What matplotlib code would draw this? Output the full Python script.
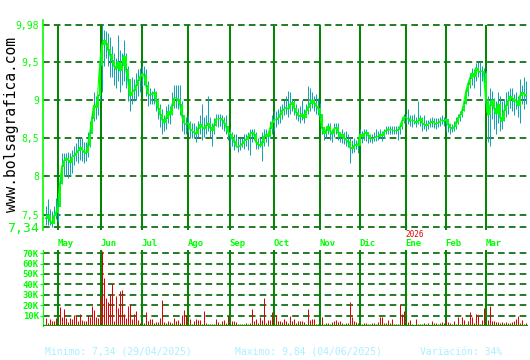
import matplotlib
matplotlib.use('Agg')
import numpy as np
import matplotlib.pyplot as plt
import matplotlib.transforms as mtransforms

# daily close / high / low (EUR)
close = [7.45, 7.50, 7.42, 7.38, 7.48, 7.52, 7.60, 7.90, 8.12, 8.20,
         8.24, 8.22, 8.18, 8.25, 8.27, 8.30, 8.33, 8.38, 8.35, 8.32,
         8.30, 8.40, 8.55, 8.75, 8.93, 8.90, 9.05, 9.45, 9.72, 9.78,
         9.74, 9.66, 9.60, 9.52, 9.45, 9.40, 9.50, 9.38, 9.45, 9.58,
         9.40, 9.28, 9.05, 9.10, 9.12, 9.18, 9.25, 9.30, 9.34, 9.34,
         9.20, 9.08, 9.06, 9.08, 9.10, 9.00, 8.90, 8.82, 8.75, 8.70,
         8.75, 8.85, 8.80, 8.92, 9.02, 9.03, 9.00, 8.95, 8.80, 8.70,
         8.68, 8.70, 8.62, 8.60, 8.58, 8.55, 8.62, 8.68, 8.65, 8.62,
         8.66, 8.70, 8.64, 8.60, 8.66, 8.75, 8.75, 8.76, 8.74, 8.70,
         8.66, 8.58, 8.55, 8.50, 8.46, 8.40, 8.38, 8.40, 8.42, 8.46,
         8.48, 8.52, 8.55, 8.58, 8.56, 8.45, 8.42, 8.40, 8.44, 8.52,
         8.55, 8.52, 8.62, 8.70, 8.74, 8.74, 8.76, 8.80, 8.86, 8.88,
         8.90, 8.88, 8.94, 8.97, 8.90, 8.84, 8.80, 8.78, 8.82, 8.76,
         8.85, 8.90, 8.95, 9.00, 8.96, 8.92, 8.90, 8.82, 8.64, 8.56,
         8.60, 8.66, 8.60, 8.55, 8.62, 8.64, 8.58, 8.52, 8.55, 8.50,
         8.48, 8.46, 8.38, 8.36, 8.40, 8.42, 8.40, 8.55, 8.52, 8.56,
         8.58, 8.54, 8.50, 8.49, 8.50, 8.52, 8.52, 8.55, 8.53, 8.58,
         8.60, 8.62, 8.61, 8.61, 8.60, 8.60, 8.61, 8.64, 8.72, 8.78,
         8.77, 8.76, 8.72, 8.74, 8.73, 8.70, 8.72, 8.76, 8.70, 8.68,
         8.66, 8.68, 8.70, 8.72, 8.70, 8.68, 8.70, 8.72, 8.74, 8.72,
         8.75, 8.68, 8.64, 8.62, 8.64, 8.70, 8.76, 8.80, 8.85, 8.95,
         9.10, 9.20, 9.28, 9.35, 9.30, 9.42, 9.38, 9.36, 9.38, 9.35,
         9.00, 8.80, 8.92, 9.00, 8.90, 8.82, 8.95, 8.78, 8.72, 8.85,
         8.92, 8.98, 9.05, 9.02, 8.98, 9.00, 8.92, 9.05, 9.10, 9.08, 9.05]

high = [7.62, 7.70, 7.58, 7.55, 7.62, 7.72, 7.78, 8.00, 8.30, 8.30,
        8.30, 8.32, 8.30, 8.35, 8.40, 8.44, 8.50, 8.50, 8.50, 8.45,
        8.45, 8.58, 8.72, 8.86, 9.10, 9.05, 9.08, 9.60, 9.98, 9.92,
        9.90, 9.88, 9.82, 9.70, 9.62, 9.55, 9.85, 9.65, 9.62, 9.78,
        9.62, 9.45, 9.25, 9.30, 9.28, 9.35, 9.40, 9.42, 9.44, 9.45,
        9.40, 9.25, 9.15, 9.12, 9.15, 9.12, 9.02, 8.95, 8.88, 8.80,
        8.92, 8.95, 8.92, 9.10, 9.20, 9.20, 9.20, 9.20, 8.98, 8.80,
        8.78, 8.80, 8.72, 8.70, 8.70, 8.66, 8.72, 8.80, 8.95, 8.78,
        8.80, 9.05, 8.78, 8.70, 8.76, 8.82, 8.82, 8.82, 8.80, 8.78,
        8.80, 8.66, 8.62, 8.58, 8.55, 8.55, 8.50, 8.50, 8.52, 8.55,
        8.55, 8.58, 8.62, 8.62, 8.62, 8.58, 8.50, 8.52, 8.58, 8.62,
        8.62, 8.60, 8.72, 8.80, 8.86, 8.86, 8.88, 8.92, 8.95, 9.00,
        9.05, 9.12, 9.10, 9.00, 9.00, 8.95, 8.90, 8.92, 9.00, 8.88,
        8.95, 9.18, 9.15, 9.10, 9.05, 9.08, 9.02, 8.96, 8.70, 8.65,
        8.66, 8.70, 8.70, 8.62, 8.70, 8.70, 8.70, 8.58, 8.62, 8.58,
        8.60, 8.55, 8.50, 8.48, 8.50, 8.48, 8.52, 8.62, 8.60, 8.62,
        8.62, 8.58, 8.55, 8.55, 8.58, 8.62, 8.60, 8.62, 8.60, 8.62,
        8.66, 8.66, 8.66, 8.66, 8.66, 8.66, 8.66, 8.70, 8.78, 8.82,
        8.82, 8.88, 8.80, 8.80, 8.82, 8.78, 8.98, 8.80, 8.78, 8.80,
        8.74, 8.74, 8.76, 8.78, 8.76, 8.76, 8.76, 8.78, 8.80, 8.78,
        8.78, 8.75, 8.70, 8.68, 8.72, 8.78, 8.82, 8.86, 8.90, 9.00,
        9.15, 9.25, 9.35, 9.42, 9.40, 9.48, 9.50, 9.50, 9.45, 9.42,
        9.38, 9.05, 9.15, 9.12, 9.02, 8.98, 9.10, 9.05, 8.98, 9.00,
        9.10, 9.12, 9.15, 9.15, 9.08, 9.10, 9.05, 9.28, 9.20, 9.30, 9.25]

low = [7.36, 7.36, 7.36, 7.34, 7.40, 7.44, 7.40, 7.75, 7.90, 8.00,
       8.00, 7.98, 8.02, 8.05, 8.15, 8.20, 8.18, 8.22, 8.20, 8.18,
       8.20, 8.25, 8.38, 8.58, 8.72, 8.75, 8.80, 8.98, 9.10, 9.45,
       9.55, 9.45, 9.30, 9.30, 9.20, 9.15, 9.25, 9.10, 9.20, 9.25,
       9.15, 8.98, 8.85, 8.95, 8.98, 9.00, 9.05, 9.10, 9.18, 9.20,
       9.05, 8.92, 8.95, 8.95, 8.95, 8.85, 8.75, 8.65, 8.55, 8.60,
       8.62, 8.70, 8.68, 8.80, 8.90, 8.90, 8.88, 8.80, 8.60, 8.55,
       8.55, 8.58, 8.52, 8.50, 8.50, 8.45, 8.52, 8.55, 8.48, 8.52,
       8.55, 8.60, 8.52, 8.40, 8.55, 8.66, 8.65, 8.66, 8.62, 8.60,
       8.55, 8.48, 8.38, 8.40, 8.35, 8.38, 8.32, 8.35, 8.38, 8.36,
       8.40, 8.35, 8.28, 8.45, 8.48, 8.36, 8.36, 8.38, 8.20, 8.40,
       8.45, 8.40, 8.50, 8.55, 8.60, 8.65, 8.68, 8.70, 8.75, 8.80,
       8.82, 8.78, 8.82, 8.86, 8.80, 8.75, 8.72, 8.70, 8.74, 8.70,
       8.78, 8.82, 8.85, 8.90, 8.86, 8.82, 8.80, 8.75, 8.55, 8.48,
       8.50, 8.55, 8.48, 8.45, 8.52, 8.56, 8.48, 8.45, 8.44, 8.42,
       8.40, 8.38, 8.18, 8.30, 8.32, 8.36, 8.30, 8.45, 8.44, 8.48,
       8.46, 8.44, 8.45, 8.44, 8.46, 8.46, 8.48, 8.50, 8.46, 8.50,
       8.55, 8.56, 8.56, 8.56, 8.56, 8.55, 8.48, 8.56, 8.62, 8.70,
       8.70, 8.68, 8.66, 8.65, 8.68, 8.64, 8.68, 8.66, 8.60, 8.62,
       8.60, 8.62, 8.64, 8.65, 8.63, 8.62, 8.64, 8.66, 8.68, 8.66,
       8.60, 8.58, 8.56, 8.58, 8.60, 8.62, 8.68, 8.72, 8.78, 8.85,
       8.95, 9.05, 9.15, 9.20, 9.15, 9.25, 9.30, 9.05, 9.25, 9.22,
       8.85, 8.45, 8.40, 8.75, 8.62, 8.55, 8.70, 8.60, 8.62, 8.72,
       8.78, 8.82, 8.90, 8.85, 8.80, 8.88, 8.78, 8.70, 8.95, 8.88, 8.95]

# daily volume in thousands
volume_k = [8, 3, 7, 5, 5, 8, 2, 18, 9, 16,
            8, 4, 8, 7, 11, 10, 5, 12, 6, 5,
            5, 11, 9, 19, 15, 9, 8, 29, 72, 46,
            27, 23, 31, 40, 5, 29, 17, 34, 35, 12,
            8, 19, 21, 7, 12, 14, 6, 3, 2, 3,
            13, 5, 7, 7, 3, 4, 4, 8, 25, 4,
            3, 5, 4, 3, 8, 5, 6, 3, 11, 15,
            11, 2, 7, 2, 5, 7, 6, 6, 2, 14,
            3, 2, 2, 2, 2, 7, 4, 2, 5, 6,
            3, 10, 2, 5, 5, 4, 2, 2, 2, 2,
            3, 2, 3, 16, 5, 7, 3, 9, 6, 27,
            3, 6, 6, 13, 2, 11, 5, 5, 4, 7,
            5, 3, 10, 5, 7, 3, 5, 5, 5, 4,
            2, 16, 6, 7, 7, 2, 2, 2, 9, 2,
            3, 3, 2, 4, 5, 6, 4, 5, 3, 2,
            3, 3, 23, 9, 5, 4, 3, 2, 2, 3,
            3, 2, 2, 3, 3, 2, 4, 9, 9, 3,
            3, 6, 3, 7, 2, 2, 2, 21, 12, 14,
            2, 4, 6, 2, 1, 7, 2, 2, 2, 3,
            2, 3, 1, 5, 3, 3, 2, 3, 4, 3,
            7, 4, 3, 2, 5, 2, 9, 2, 9, 6,
            2, 5, 13, 9, 3, 12, 11, 2, 6, 17,
            2, 6, 19, 5, 5, 4, 4, 3, 4, 3,
            4, 3, 3, 4, 5, 7, 10, 3, 6, 2, 3]

month_names = ['May', 'Jun', 'Jul', 'Ago', 'Sep', 'Oct', 'Nov', 'Dic', 'Ene', 'Feb', 'Mar']
month_start = [6, 27.5, 48, 71, 92, 114, 137, 157, 180, 200, 220]
price_ticks = [7.34, 7.5, 8, 8.5, 9, 9.5, 9.98]
price_labels = ['7,34', '7,5', '8', '8,5', '9', '9,5', '9,98']
vol_ticks = [10, 20, 30, 40, 50, 60, 70]
vol_labels = ['10K', '20K', '30K', '40K', '50K', '60K', '70K']

LIME = '#00ff00'
GRID = '#006400'
MLINE = '#008800'
BARC = '#10a4b4'
W, H = 530, 360
MONO = 'DejaVu Sans Mono'
PX = 0.72  # one pixel in points at dpi 100

fig = plt.figure(figsize=(5.3, 3.6), dpi=100)
fig.patch.set_facecolor('white')

def box(x0, y0, x1, y1):
    return [x0 / W, 1 - y1 / H, (x1 - x0) / W, (y1 - y0) / H]

ax = fig.add_axes(box(43, 20, 528, 230))
av = fig.add_axes(box(43, 250, 528, 326))

x = np.arange(len(close))
xv = np.arange(len(volume_k))
XL = (-1.25, 241.25)  # 2 px per day, days centred on pixels

# price panel
ymin, ymax = 7.30, 10.045
ax.set_xlim(*XL)
ax.set_ylim(ymin, ymax)
for t in price_ticks:
    ax.axhline(t, color=GRID, lw=1.2, ls=(0, (4, 2.5)), zorder=1)
ax.vlines(month_start, ymin, 9.98, color=MLINE, lw=2 * PX, zorder=2)
ax.vlines(x, low, high, color=BARC, lw=PX, zorder=3)
prev = [close[0]] + close[:-1]
ax.vlines(x, prev, close, color=LIME, lw=2 * PX, zorder=4, antialiased=False)
ax.plot(x, close, color=LIME, lw=0.75, zorder=5)

ax.set_yticks(price_ticks)
ax.set_yticklabels(price_labels, family=MONO, fontsize=7, color=LIME)
ax.get_yticklabels()[0].set_fontsize(9.5)
ax.tick_params(axis='y', length=0, pad=3)
ax.set_xticks([])
for s in ['top', 'right', 'bottom']:
    ax.spines[s].set_visible(False)
ax.spines['left'].set_color(LIME)
ax.spines['left'].set_linewidth(1.2)

# volume panel
av.set_xlim(*XL)
av.set_ylim(0, 73)
for t in vol_ticks:
    av.axhline(t, color=GRID, lw=1.2, ls=(0, (4, 2.5)), zorder=1)
av.vlines(month_start, 0, 73, color=MLINE, lw=2 * PX, zorder=2)
av.vlines(xv, 0, volume_k, color='#e00000', lw=PX, zorder=3)
av.axhline(0, color='#00a000', lw=1.6, zorder=4)
av.set_yticks(vol_ticks)
av.set_yticklabels(vol_labels, family=MONO, fontsize=6.5, color=LIME, fontweight='bold')
av.tick_params(axis='y', length=2, pad=1, color=LIME)
av.set_xticks([])
for s in ['top', 'right', 'bottom']:
    av.spines[s].set_visible(False)
av.spines['left'].set_color(LIME)

# month labels between the panels
tr = mtransforms.blended_transform_factory(ax.transData, fig.transFigure)
for m, name in zip(month_start, month_names):
    fig.text(m, 1 - 244 / H, name, transform=tr, family=MONO, fontsize=6.5,
             fontweight='bold', color=LIME, ha='left', va='center')
fig.text(180, 1 - 234.5 / H, '2026', transform=tr, family=MONO, fontsize=5.5,
         color='#e00000', ha='left', va='center')

fig.text(12 / W, 1 - 125 / H, 'www.bolsagrafica.com', rotation=90,
         family=MONO, fontsize=10.5, color='black', ha='center', va='center')

pale = '#aaf0ff'
fig.text(45 / W, 1 - 352 / H, 'Minimo: 7,34 (29/04/2025)', family=MONO,
         fontsize=7, color=pale, va='center')
fig.text(235 / W, 1 - 352 / H, 'Maximo: 9,84 (04/06/2025)', family=MONO,
         fontsize=7, color=pale, va='center')
fig.text(420 / W, 1 - 352 / H, 'Variación: 34%', family=MONO,
         fontsize=7, color=pale, va='center')

fig.savefig('out.png', dpi=100)
